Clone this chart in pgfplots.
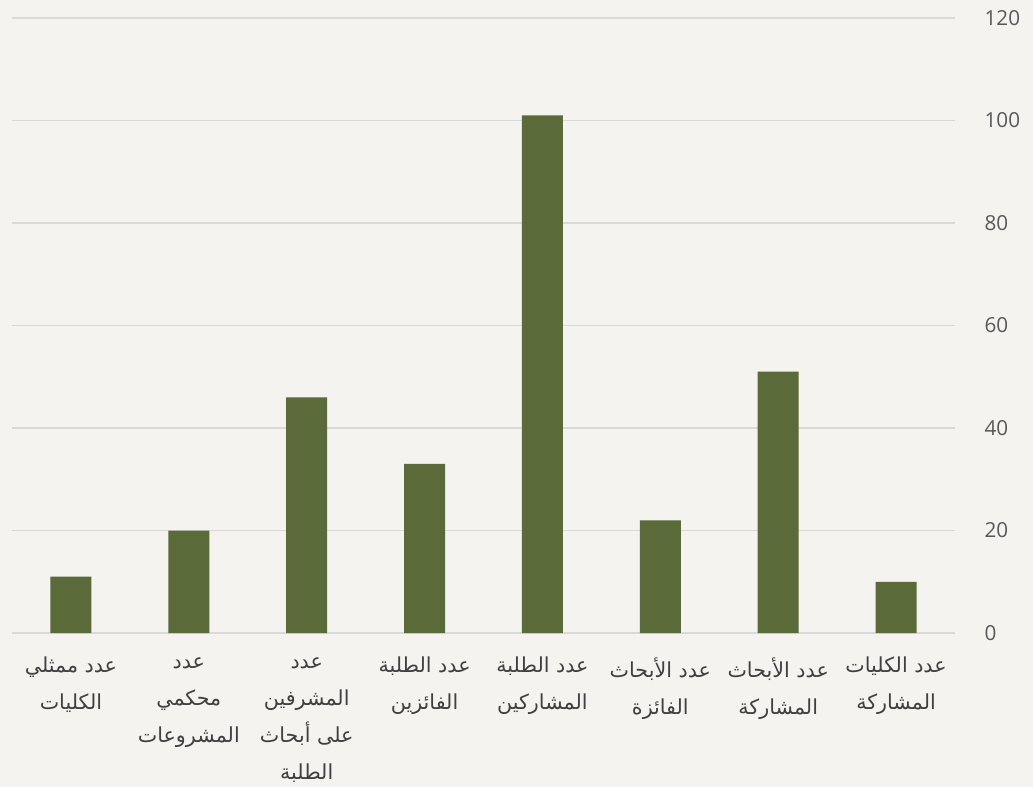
\documentclass[border=0pt]{standalone}
\usepackage{pgfplots}
\pgfplotsset{compat=1.18}
\usepackage{fontspec}
\setmainfont{Open Sans}
\newfontfamily\arabicfont[Script=Arabic]{DejaVu Sans}
\TeXXeTstate=1
\usetikzlibrary{backgrounds}
\definecolor{barcol}{HTML}{5A6A39}
\definecolor{bgcol}{HTML}{F4F3F0}
\definecolor{gridcol}{HTML}{D9D9D9}
\definecolor{tickcol}{HTML}{595959}
\definecolor{labcol}{HTML}{404040}
\begin{document}
\begin{tikzpicture}
\begin{axis}[
  name=main,
  width=707.25pt, height=461.25pt,
  scale only axis,
  xmin=-0.5, xmax=7.5,
  ymin=0, ymax=120,
  ytick={0,20,...,120},
  xtick={0,...,7},
  xticklabels={
    {\beginR عدد ممثلي\endR\\\beginR الكليات\endR},
    {\beginR عدد\endR\\\beginR محكمي\endR\\\beginR المشروعات\endR},
    {\beginR عدد\endR\\\beginR المشرفين\endR\\\beginR على أبحاث\endR\\\beginR الطلبة\endR},
    {\beginR عدد الطلبة\endR\\\beginR الفائزين\endR},
    {\beginR عدد الطلبة\endR\\\beginR المشاركين\endR},
    {\beginR عدد الأبحاث\endR\\\beginR الفائزة\endR},
    {\beginR عدد الأبحاث\endR\\\beginR المشاركة\endR},
    {\beginR عدد الكليات\endR\\\beginR المشاركة\endR}
  },
  yticklabel pos=right,
  axis line style={draw=none},
  major tick style={draw=none},
  ymajorgrids,
  grid style={gridcol, line width=1.1pt},
  /pgf/number format/assume math mode=true,
  yticklabel style={anchor=west, inner sep=0pt, xshift=22pt,
    font=\fontsize{15.5}{18}\selectfont, text=tickcol},
  xticklabel style={anchor=north, align=center, inner sep=0pt, yshift=-18pt,
    font=\arabicfont\fontsize{15.5}{27.75}\selectfont, text=labcol},
]
\addplot[ybar, bar width=30.75pt, fill=barcol, draw=none] coordinates {
  (0,11) (1,20) (2,46) (3,33) (4,101) (5,22) (6,51) (7,10)
};
\end{axis}
\begin{scope}[on background layer]
  \fill[bgcol] ([xshift=-9pt,yshift=-115.5pt]main.south west) rectangle ([xshift=58.5pt,yshift=13.5pt]main.north east);
\end{scope}
\pgfresetboundingbox
\path[use as bounding box] ([xshift=-9pt,yshift=-115.5pt]main.south west) rectangle ([xshift=58.5pt,yshift=13.5pt]main.north east);
\end{tikzpicture}
\end{document}
